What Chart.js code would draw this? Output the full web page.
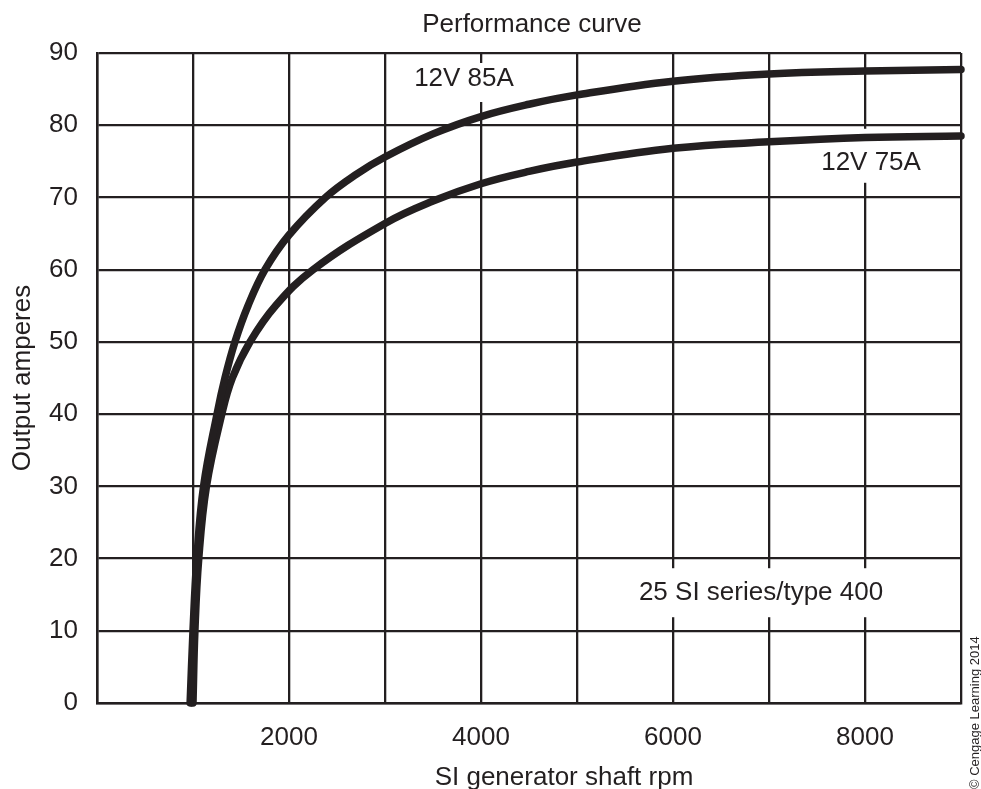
<!DOCTYPE html>
<html>
<head>
<meta charset="utf-8">
<title>Performance curve</title>
<script src="https://cdn.jsdelivr.net/npm/chart.js@4.4.1/dist/chart.umd.min.js"></script>
<style>
    html, body { margin: 0; padding: 0; background: #fff; }
</style>
</head>
<body>
<canvas id="perfChart" width="981" height="789"></canvas>
<script>
// Alternator performance curves
const rpm85 = [970, 1000, 1040, 1110, 1250, 1333, 1437, 1573, 1750, 2000, 2380, 2700, 3000, 3500, 4000, 4500, 5000, 6000, 7000, 8000, 9000];
const amps85 = [0, 10, 20, 30, 40, 45, 50, 55, 60, 64.8, 70, 73.2, 75.6, 78.8, 81.2, 82.9, 84.2, 86.1, 87.1, 87.5, 87.7];

const rpm75 = [1000, 1020, 1060, 1140, 1300, 1410, 1594, 1860, 2250, 3000, 3500, 4000, 4500, 5000, 6000, 7000, 8000, 9000];
const amps75 = [0, 10, 20, 30, 40, 45, 50, 55, 60, 66.4, 69.5, 71.9, 73.6, 74.9, 76.8, 77.7, 78.3, 78.5];

const xLabelTicks = [2000, 4000, 6000, 8000];

// text placed inside the plot (white box hides the grid behind it)
const curveLabels = [
    { text: '12V 85A', rpm: 3823, amps: 86.4, padTop: 16, padBottom: 23 },
    { text: '12V 75A', rpm: 8063, amps: 74.8, padTop: 34, padBottom: 20 },
    { text: '25 SI series/type 400', rpm: 6917, amps: 15.2, padTop: 25, padBottom: 24 }
];

const INK = '#231f20';
const FONT = "'Liberation Sans', Arial, Helvetica, sans-serif";
const FONT_SIZE = 26;

const toPoints = (xs, ys) => xs.map((v, i) => ({ x: v, y: ys[i] }));

const textPlugin = {
    id: 'textPlugin',
    beforeDatasetsDraw(chart) {
        const { ctx, scales: { x, y } } = chart;
        ctx.save();
        ctx.font = `${FONT_SIZE}px ${FONT}`;
        ctx.fillStyle = '#fff';
        curveLabels.forEach(l => {
            const cx = x.getPixelForValue(l.rpm);
            const cy = y.getPixelForValue(l.amps);
            const w = ctx.measureText(l.text).width;
            ctx.fillRect(cx - w / 2 - 6, cy - l.padTop, w + 12, l.padTop + l.padBottom);
        });
        ctx.restore();
    },
    afterDraw(chart) {
        const { ctx, scales: { x, y } } = chart;
        ctx.save();
        ctx.fillStyle = INK;
        ctx.font = `${FONT_SIZE}px ${FONT}`;
        ctx.textAlign = 'center';
        ctx.textBaseline = 'middle';
        curveLabels.forEach(l => {
            ctx.fillText(l.text, x.getPixelForValue(l.rpm), y.getPixelForValue(l.amps));
        });

        // chart title and x axis title
        ctx.textBaseline = 'alphabetic';
        ctx.fillText('Performance curve', 532, 32);
        ctx.fillText('SI generator shaft rpm', 564, 785);

        // credit line, vertical at the right edge
        ctx.font = `13px ${FONT}`;
        ctx.textAlign = 'left';
        ctx.translate(979, 789);
        ctx.rotate(-Math.PI / 2);
        ctx.fillText('\u00A9 Cengage Learning 2014', 0, 0);
        ctx.restore();
    }
};

new Chart(document.getElementById('perfChart'), {
    type: 'line',
    data: {
        datasets: [
            {
                label: '12V 85A',
                data: toPoints(rpm85, amps85),
                borderColor: INK,
                borderWidth: 7.5,
                pointRadius: 0,
                tension: 0.4,
                borderCapStyle: 'round',
                borderJoinStyle: 'round',
                clip: false
            },
            {
                label: '12V 75A',
                data: toPoints(rpm75, amps75),
                borderColor: INK,
                borderWidth: 7.5,
                pointRadius: 0,
                tension: 0.4,
                borderCapStyle: 'round',
                borderJoinStyle: 'round',
                clip: false
            }
        ]
    },
    options: {
        responsive: false,
        animation: false,
        events: [],
        layout: {
            padding: { top: 53, right: 20, left: 0, bottom: 0 }
        },
        plugins: {
            legend: { display: false },
            tooltip: { enabled: false }
        },
        scales: {
            x: {
                type: 'linear',
                min: 0,
                max: 9000,
                afterFit: (scale) => { scale.height = 86; },
                grid: { color: INK, lineWidth: 2.3, drawTicks: false },
                border: { color: INK, width: 2.5 },
                ticks: {
                    stepSize: 1000,
                    autoSkip: false,
                    maxRotation: 0,
                    padding: 19,
                    color: INK,
                    font: { family: FONT, size: FONT_SIZE },
                    callback: (value) => xLabelTicks.includes(value) ? String(value) : ''
                }
            },
            y: {
                min: 0,
                max: 90,
                afterFit: (scale) => { scale.width = 97; },
                grid: { color: INK, lineWidth: 2.3, drawTicks: false },
                border: { color: INK, width: 2.5 },
                ticks: {
                    stepSize: 10,
                    padding: 19,
                    color: INK,
                    font: { family: FONT, size: FONT_SIZE }
                },
                title: {
                    display: true,
                    text: 'Output amperes',
                    color: INK,
                    font: { family: FONT, size: FONT_SIZE },
                    padding: { top: 7, bottom: 0 }
                }
            }
        }
    },
    plugins: [textPlugin]
});
</script>
</body>
</html>
